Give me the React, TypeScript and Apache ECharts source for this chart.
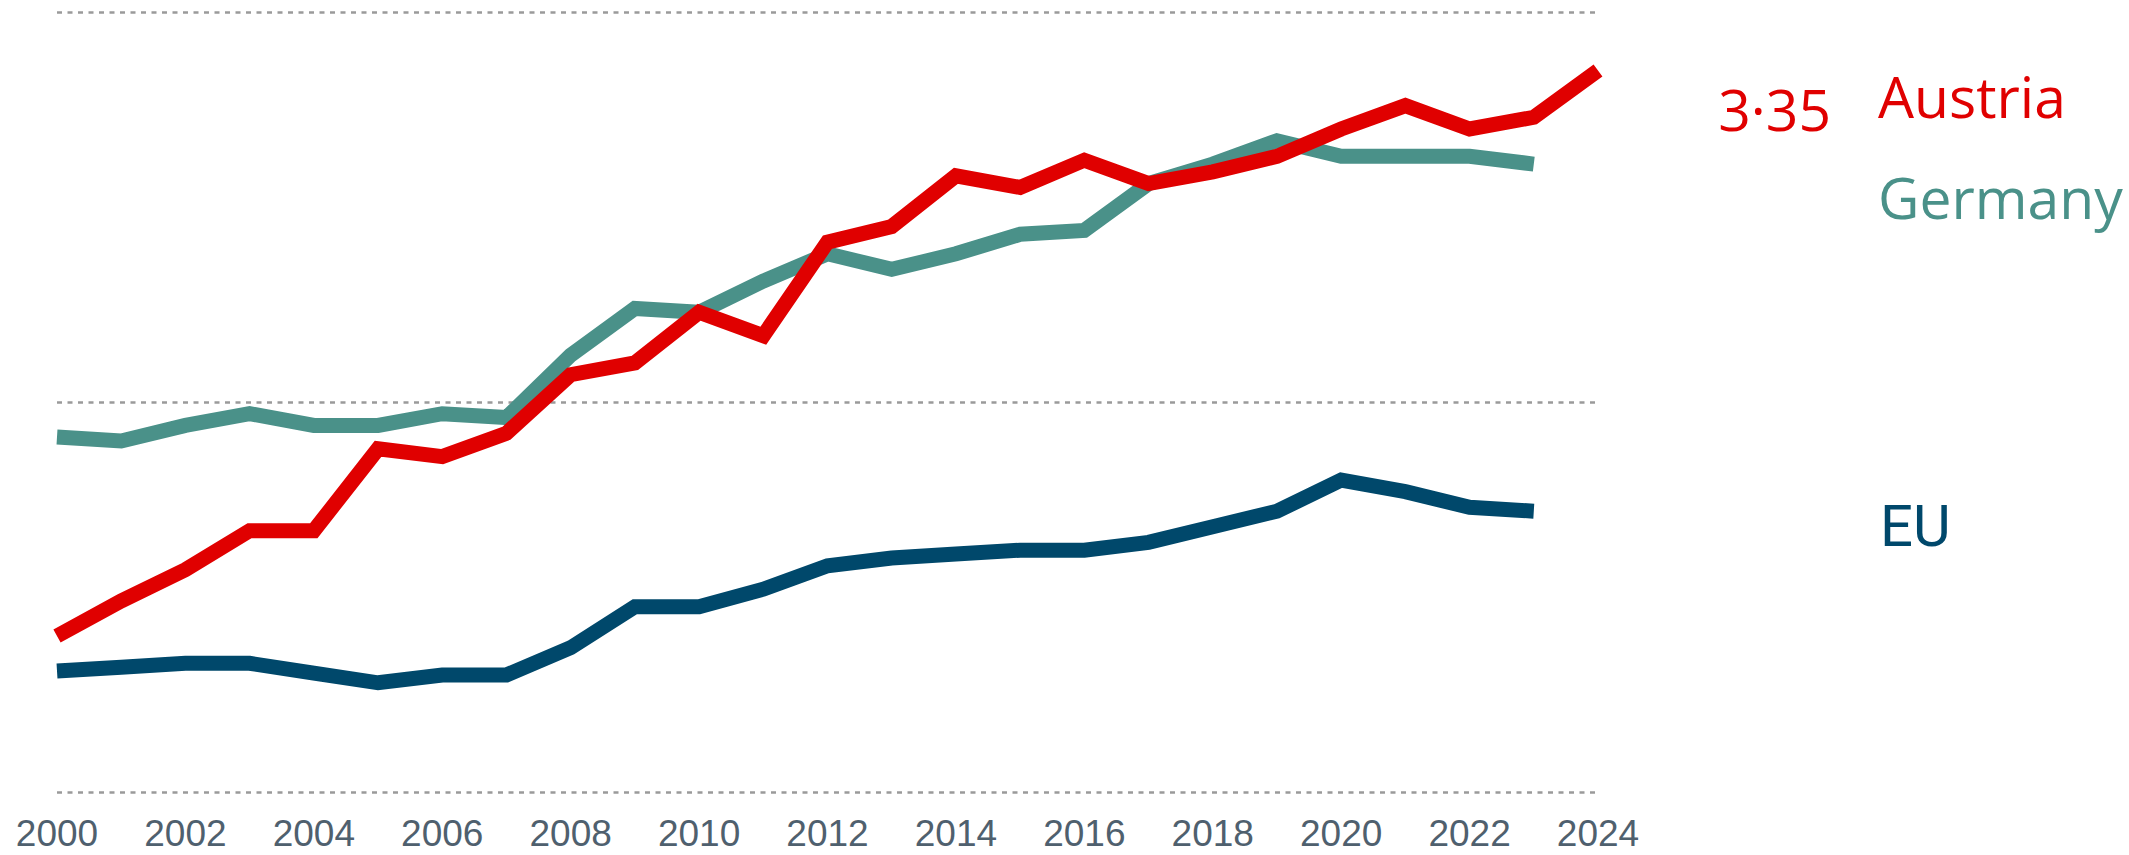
import React, { useEffect, useRef } from "react";
import * as echarts from "echarts";

const years = [
  "2000", "2001", "2002", "2003", "2004", "2005", "2006", "2007", "2008", "2009",
  "2010", "2011", "2012", "2013", "2014", "2015", "2016", "2017", "2018", "2019",
  "2020", "2021", "2022", "2023", "2024",
];

const austria = [
  1.9, 1.99, 2.07, 2.17, 2.17, 2.38, 2.36, 2.42, 2.57, 2.6,
  2.73, 2.67, 2.91, 2.95, 3.08, 3.05, 3.12, 3.06, 3.09, 3.13,
  3.2, 3.26, 3.2, 3.23, 3.35,
];

const germany = [
  2.41, 2.4, 2.44, 2.47, 2.44, 2.44, 2.47, 2.46, 2.62, 2.74,
  2.73, 2.81, 2.88, 2.84, 2.88, 2.93, 2.94, 3.06, 3.11, 3.17,
  3.13, 3.13, 3.13, 3.11,
];

const eu = [
  1.81, 1.82, 1.83, 1.83, 1.805, 1.78, 1.8, 1.8, 1.87, 1.975,
  1.975, 2.02, 2.08, 2.1, 2.11, 2.12, 2.12, 2.14, 2.18, 2.22,
  2.3, 2.27, 2.23, 2.22,
];

const yTicks = { min: 1.5, max: 3.5, interval: 1 };

const RED = "#e00000";
const TEAL = "#4a9189";
const NAVY = "#00486b";
const AXIS_TEXT = "#4f606e";

export default function App() {
  const ref = useRef<HTMLDivElement>(null);

  useEffect(() => {
    if (!ref.current) return;
    const chart = echarts.init(ref.current, null, { renderer: "svg" });
    const lastAustria = austria[austria.length - 1];
    chart.setOption({
      animation: false,
      backgroundColor: "#ffffff",
      grid: { left: 57, right: 531, top: 12, bottom: 63, containLabel: false },
      xAxis: {
        type: "category",
        data: years,
        boundaryGap: false,
        axisLine: { show: false },
        axisTick: { show: false },
        splitLine: { show: false },
        axisLabel: {
          interval: 1,
          color: AXIS_TEXT,
          fontSize: 37,
          fontFamily: "'Liberation Sans', Arial, sans-serif",
          margin: 23,
        },
      },
      yAxis: {
        type: "value",
        min: yTicks.min,
        max: yTicks.max,
        interval: yTicks.interval,
        axisLine: { show: false },
        axisTick: { show: false },
        axisLabel: { show: false },
        splitLine: {
          show: true,
          lineStyle: { color: "#9a9a9a", width: 2.5, type: [5, 5.5] },
        },
      },
      series: [
        {
          name: "EU",
          type: "line",
          data: eu,
          symbol: "none",
          lineStyle: { color: NAVY, width: 15, join: "miter", cap: "butt" },
          z: 2,
        },
        {
          name: "Germany",
          type: "line",
          data: germany,
          symbol: "none",
          lineStyle: { color: TEAL, width: 15, join: "miter", cap: "butt" },
          z: 3,
        },
        {
          name: "Austria",
          type: "line",
          data: austria,
          symbol: "none",
          lineStyle: { color: RED, width: 15, join: "miter", cap: "butt" },
          z: 4,
        },
      ],
      graphic: [
        {
          type: "text",
          x: 1831,
          y: 109,
          style: {
            text: lastAustria.toFixed(2).replace(".", "·"),
            fill: RED,
            font: "57px 'Open Sans', sans-serif",
            align: "right",
            verticalAlign: "middle",
          },
        },
        {
          type: "text",
          x: 1878,
          y: 96,
          style: {
            text: "Austria",
            fill: RED,
            font: "57px 'Open Sans', sans-serif",
            align: "left",
            verticalAlign: "middle",
          },
        },
        {
          type: "text",
          x: 1878,
          y: 197,
          style: {
            text: "Germany",
            fill: TEAL,
            font: "57px 'Open Sans', sans-serif",
            align: "left",
            verticalAlign: "middle",
          },
        },
        {
          type: "text",
          x: 1880,
          y: 526,
          style: {
            text: "EU",
            fill: NAVY,
            font: "58px Roboto, sans-serif",
            align: "left",
            verticalAlign: "middle",
          },
        },
      ],
    });
    return () => chart.dispose();
  }, []);

  return (
    <div
      ref={ref}
      style={{ position: "fixed", left: 0, top: 0, width: "2129px", height: "855px" }}
    />
  );
}
